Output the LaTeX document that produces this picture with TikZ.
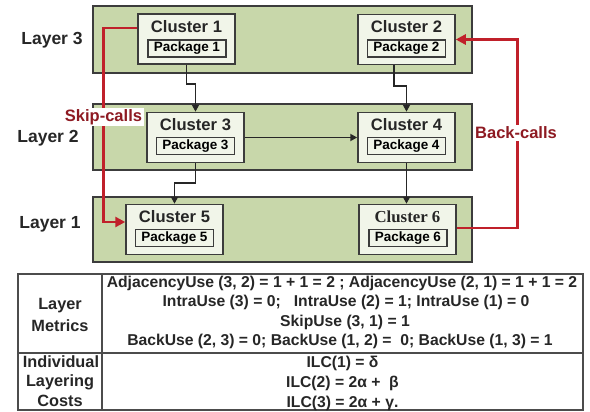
\documentclass[tikz,border=0pt]{standalone}
\usepackage{fontspec}
\setmainfont{Liberation Sans}
\newfontfamily\seriffont{Liberation Serif}
\usetikzlibrary{arrows.meta}
\definecolor{bandgreen}{RGB}{200,215,170}
\definecolor{clusterfill}{RGB}{241,245,233}
\definecolor{bordergray}{RGB}{60,60,60}
\definecolor{callred}{RGB}{192,32,42}
\definecolor{labelred}{RGB}{142,26,34}
\begin{document}
\begin{tikzpicture}[x=1pt,y=-1pt,
  band/.style={draw=bordergray, line width=1.4pt, fill=bandgreen, minimum width=379pt, inner sep=0pt},
  cluster/.style={draw=bordergray, line width=1.5pt, fill=clusterfill, minimum width=97pt, minimum height=50pt, inner sep=0pt},
  pkg/.style={draw=bordergray, line width=1.1pt, fill=clusterfill, minimum width=78pt, minimum height=17pt, inner sep=0pt, font=\bfseries\fontsize{13.5}{15}\selectfont},
  ctitle/.style={inner sep=0pt, font=\bfseries\fontsize{16.6}{19}\selectfont, text=black!85},
  layerlbl/.style={inner sep=0pt, font=\bfseries\fontsize{17.5}{20}\selectfont, text=black!85},
  arr/.style={draw=black!85, line width=1.9pt, -{Triangle[length=7pt,width=7pt]}},
  redcall/.style={draw=callred, line width=2.9pt, -{Triangle[length=10pt,width=10pt]}},
  redlbl/.style={fill=white, inner sep=1.5pt, text=labelred, font=\bfseries\fontsize{16.5}{19}\selectfont},
  tbltext/.style={inner sep=0pt, font=\bfseries\fontsize{15.7}{18}\selectfont, text=black!85},
  tbllbl/.style={inner sep=0pt, font=\bfseries\fontsize{16.3}{19}\selectfont, text=black!85},
  tblline/.style={draw=black!70, line width=1.2pt}
]
\useasboundingbox (0,0) rectangle (590,412);

% layer bands
\node[band, minimum height=67pt] (b3) at (282.5,39.5) {};
\node[band, minimum height=66pt] (b2) at (282.5,137) {};
\node[band, minimum height=65pt] (b1) at (282.5,229.5) {};

% layer labels
\node[layerlbl] (l3) at (52,40) {Layer 3};
\node[layerlbl] (l2) at (48,138) {Layer 2};
\node[layerlbl] (l1) at (50,224) {Layer 1};

% clusters
\node[cluster] (c1) at (186.5,39) {};
\node[cluster] (c2) at (406.5,39.5) {};
\node[cluster] (c3) at (195.5,137.5) {};
\node[cluster] (c4) at (406.5,137.5) {};
\node[cluster] (c5) at (174.5,229.5) {};
\node[cluster] (c6) at (407.5,229.5) {};

\node[ctitle] (t1) at ([yshift=-13pt]c1.north) {Cluster 1};
\node[ctitle] (t2) at ([yshift=-13pt]c2.north) {Cluster 2};
\node[ctitle] (t3) at ([yshift=-13pt]c3.north) {Cluster 3};
\node[ctitle] (t4) at ([yshift=-13pt]c4.north) {Cluster 4};
\node[ctitle] (t5) at ([yshift=-13pt]c5.north) {Cluster 5};
\node[ctitle, font=\seriffont\bfseries\fontsize{16.8}{19}\selectfont] (t6) at ([yshift=-13pt]c6.north) {Cluster 6};

\node[pkg] (p1) at (187,48.5) {Package 1};
\node[pkg] (p2) at (406.5,48.5) {Package 2};
\node[pkg] (p3) at (195.5,146) {Package 3};
\node[pkg] (p4) at (406.5,146) {Package 4};
\node[pkg] (p5) at (174.5,238) {Package 5};
\node[pkg] (p6) at (408,238) {Package 6};

% dependencies
\draw[arr] (c1.south) -- ++(0,19) -| (c3.north);
\draw[arr] ([xshift=-12.5pt]c2.south) -- ++(0,21) -| (c4.north);
\draw[arr] (c3.east) -- (c4.west);
\draw[arr] (c3.south) -- ++(0,20) -| (c5.north);
\draw[arr] (c4.south) -- (c4.south |- c6.north);

% skip and back calls
\draw[redcall] ([yshift=11pt]c1.west) -| ([xshift=-22pt,yshift=7.5pt]c5.west) -- ([yshift=7.5pt]c5.west);
\draw[redcall] ([yshift=1.5pt]c6.east) -| ([xshift=62pt]c2.east) -- (c2.east);
\node[redlbl] (skip) at (103.5,117) {Skip-calls};
\node[redlbl] (back) at (516,133) {Back-calls};

% table
\node[tblline, minimum width=565pt, minimum height=136pt, inner sep=0pt] (tbl) at (300.5,342) {};
\coordinate (vdiv) at (102,0);
\coordinate (hdiv) at (0,353);
\draw[tblline] (tbl.north -| vdiv) -- (tbl.south -| vdiv);
\draw[tblline] (tbl.west |- hdiv) -- (tbl.east |- hdiv);

\node[tbltext] (r1) at (342,283) {AdjacencyUse (3, 2) = 1 + 1 = 2 ; AdjacencyUse (2, 1) = 1 + 1 = 2};
\node[tbltext] (r2) at (346,302.5) {IntraUse (3) = 0;~~~IntraUse (2) = 1; IntraUse (1) = 0};
\node[tbltext] (r3) at (345,322) {SkipUse (3, 1) = 1};
\node[tbltext] (r4) at (340,341.5) {BackUse (2, 3) = 0; BackUse (1, 2) =~~0; BackUse (1, 3) = 1};
\node[tbltext] (s1) at (342.5,363) {ILC(1) = δ};
\node[tbltext] (s2) at (342.5,383) {ILC(2) = 2α +~~β};
\node[tbltext] (s3) at (342.5,403) {ILC(3) = 2α + γ.};

\node[tbllbl] (m1) at (60,306) {Layer};
\node[tbllbl] (m2) at (60,326) {Metrics};
\node[tbllbl] (m3) at (61,362) {Individual};
\node[tbllbl] (m4) at (60,382) {Layering};
\node[tbllbl] (m5) at (60,401) {Costs};
\end{tikzpicture}
\end{document}
